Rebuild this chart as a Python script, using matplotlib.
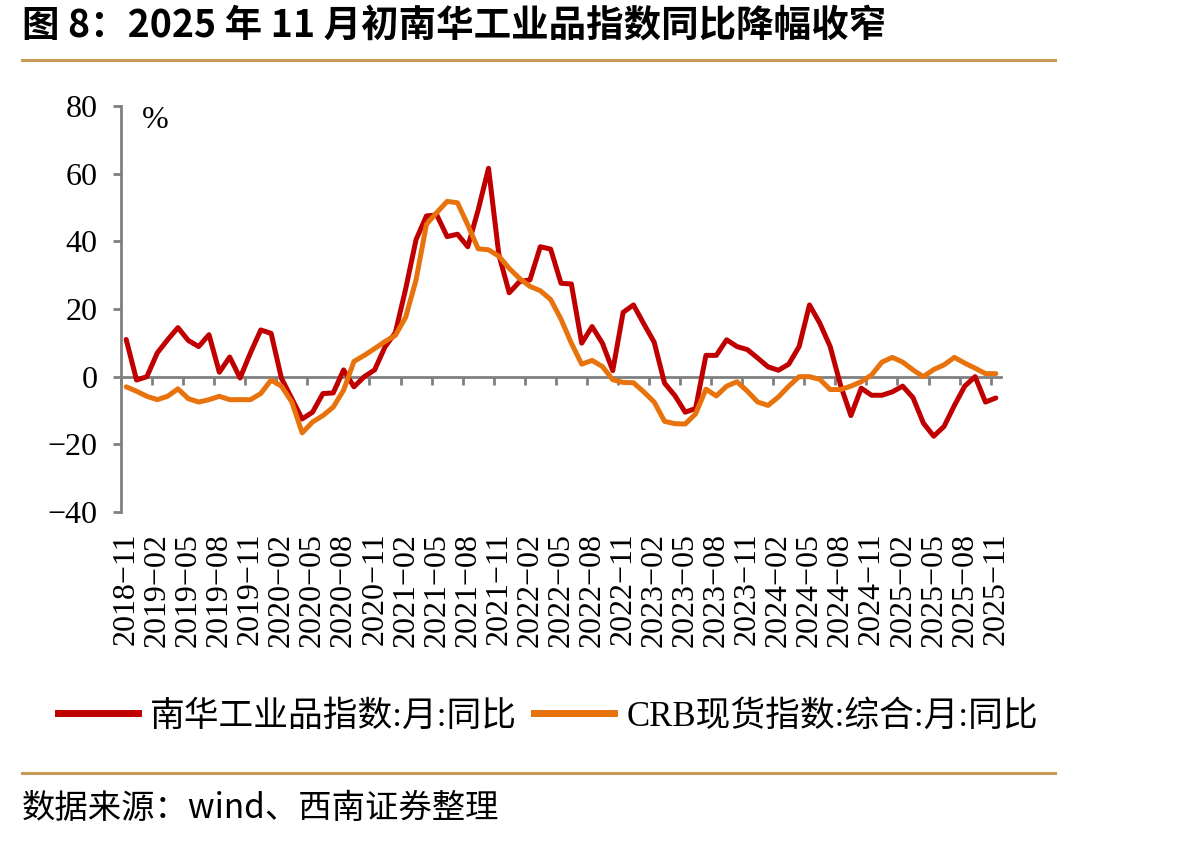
import matplotlib
matplotlib.use('Agg')
import matplotlib.pyplot as plt
from matplotlib.lines import Line2D
from matplotlib.font_manager import FontProperties
import numpy as np
import pandas as pd

# ---- data ----
months = pd.date_range('2018-11-01', '2025-11-01', freq='MS').strftime('%Y-%m').tolist()

nanhua = [11, -1, 0, 7, 10.9, 14.5, 10.7, 8.9, 12.4, 1.3,
          5.8, -0.4, 7, 13.8, 12.8, -0.5, -6.5, -12.5, -10.5, -5,
          -4.8, 2, -3, 0, 2, 8.8, 13, 26, 40.5, 47.5,
          47.8, 41.4, 42.1, 38.4, 49.3, 61.6, 36, 24.8, 28.1, 28.6,
          38.4, 37.7, 27.6, 27.4, 9.9, 14.8, 9.9, 1.8, 19, 21.2,
          15.6, 10.2, -1.9, -5.6, -10.5, -9.4, 6.3, 6.3, 10.9, 8.9,
          8, 5.5, 2.9, 1.9, 3.7, 8.9, 21.2, 15.8, 8.9, -2.5,
          -11.5, -3.4, -5.5, -5.5, -4.5, -2.8, -6.2, -13.7, -17.6, -14.7,
          -8.5, -2.8, 0, -7.5, -6.3]

crb = [-3, -4.3, -5.8, -6.8, -5.8, -3.6, -6.5, -7.5, -6.8, -5.8,
       -6.8, -6.8, -6.8, -5, -1, -2.8, -7.5, -16.6, -13.4, -11.5,
       -9, -4, 4.5, 6.3, 8.3, 10.4, 12.2, 17.6, 28.6, 45,
       48.5, 51.8, 51.4, 44.8, 37.8, 37.5, 35.6, 32, 29, 26.7,
       25.4, 22.8, 17, 9.9, 3.7, 4.8, 3, -0.9, -1.7, -1.8,
       -4.5, -7.5, -13.2, -13.9, -14, -11, -3.7, -5.7, -2.8, -1.5,
       -4.3, -7.5, -8.5, -6, -2.8, 0, 0, -0.8, -3.8, -3.8,
       -2.8, -1.5, 0.5, 4.3, 5.7, 4.3, 2, 0, 2.1, 3.5,
       5.7, 4, 2.5, 0.9, 0.9]

series_names = ['南华工业品指数:月:同比', 'CRB现货指数:综合:月:同比']
yticks = [-40, -20, 0, 20, 40, 60, 80]
title = '图 8：2025 年 11 月初南华工业品指数同比降幅收窄'
source = '数据来源：wind、西南证券整理'

# ---- style ----
RED = '#C00000'
ORANGE = '#E8720C'
GRAY = '#808080'
GOLD = '#C99A55'
SERIF = ['Liberation Serif', 'Noto Sans CJK SC']
CJK = ['Noto Sans CJK SC', 'DejaVu Sans']

W, H = 1204, 843
fig = plt.figure(figsize=(W / 100, H / 100), dpi=100)

def fx(px):
    return px / W

def fy(py):
    return 1 - py / H

ax = fig.add_axes([fx(121), fy(512), fx(1001) - fx(121), fy(106) - fy(512)])
x = np.arange(len(months))
l1, = ax.plot(x, nanhua, color=RED, lw=3.6, solid_joinstyle='round', solid_capstyle='round', zorder=3)
l2, = ax.plot(x, crb, color=ORANGE, lw=3.6, solid_joinstyle='round', solid_capstyle='round', zorder=4)

ax.set_xlim(-0.5, len(months) - 0.5)
ax.set_ylim(-40, 80)

for s in ['top', 'right']:
    ax.spines[s].set_visible(False)
ax.spines['left'].set_color(GRAY)
ax.spines['left'].set_linewidth(2.0)
ax.spines['bottom'].set_position(('data', 0))
ax.spines['bottom'].set_color(GRAY)
ax.spines['bottom'].set_linewidth(2.0)
ax.spines['bottom'].set_zorder(2)

ax.set_xticks(np.arange(-0.5, len(months), 3))
ax.tick_params(axis='x', direction='out', length=6, width=2.0, color=GRAY, labelbottom=False)
ax.set_yticks(yticks)
ax.set_yticklabels([f'{v}'.replace('-', '\u2212') for v in yticks], family=SERIF, fontsize=23)
ax.tick_params(axis='y', direction='out', length=6, width=2.0, color=GRAY, pad=11)

sec = ax.secondary_xaxis('bottom')
sec.set_xticks(x[::3])
sec.set_xticklabels([m.replace('-', '\u2212') for m in months[::3]], rotation=90,
                    family=SERIF, fontsize=23)
sec.tick_params(length=0, pad=15)
sec.spines['bottom'].set_visible(False)

fig.text(fx(155), fy(120), '%', family=SERIF, fontsize=23, ha='center', va='center')

# legend
h1 = Line2D([], [], color=RED, lw=5)
h2 = Line2D([], [], color=ORANGE, lw=5)
fig.legend([h1, h2], series_names, loc='center', bbox_to_anchor=(fx(548), fy(717)),
           ncol=2, frameon=False, prop=FontProperties(family=SERIF, size=25),
           handlelength=2.3, handletextpad=0.35, columnspacing=0.5)

# title, rules, source
fig.text(fx(22), fy(25), title, family=CJK, fontsize=27, fontweight='bold', ha='left', va='center')
fig.add_artist(Line2D([fx(22), fx(1055)], [fy(60), fy(60)], color=GOLD, lw=2.2))
fig.add_artist(Line2D([fx(22), fx(1055)], [fy(773), fy(773)], color=GOLD, lw=2.2))
fig.text(fx(22), fy(808), source, family=CJK, fontsize=24, style='italic', ha='left', va='center')

fig.savefig('out.png', dpi=100)
